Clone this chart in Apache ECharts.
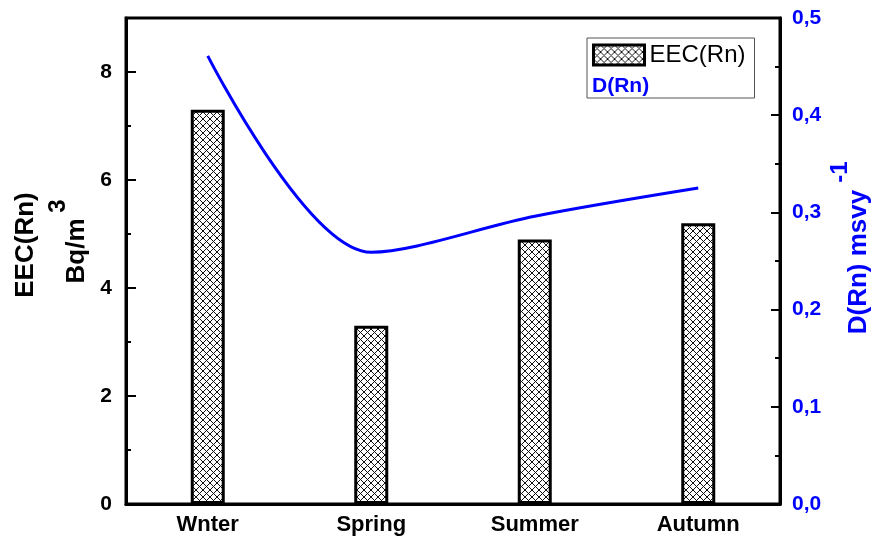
<!DOCTYPE html>
<html>
<head>
<meta charset="utf-8">
<script src="https://cdn.jsdelivr.net/npm/echarts@6/dist/echarts.min.js"></script>
<style>
  html, body { margin: 0; padding: 0; background: #fff; }
  #chart { width: 874px; height: 542px; }
</style>
</head>
<body>
<div id="chart"></div>
<script>
// Seasonal radon data
const seasons = ['Wnter', 'Spring', 'Summer', 'Autumn'];
const eecValues = [7.3, 3.3, 4.9, 5.2];          // EEC(Rn), Bq/m3
const doseValues = [0.461, 0.259, 0.296, 0.325]; // D(Rn), mSv/y
const eecTicks = [0, 2, 4, 6, 8];
const doseTicks = ['0,0', '0,1', '0,2', '0,3', '0,4', '0,5'];

const FONT = "'Liberation Sans', Arial, sans-serif";
const BLUE = '#0000ff';

// Cross-hatch tile used to fill the bars
function crossHatch(n) {
  const c = document.createElement('canvas');
  c.width = n; c.height = n;
  const g = c.getContext('2d');
  g.fillStyle = '#fff';
  g.fillRect(0, 0, n, n);
  g.strokeStyle = '#111';
  g.lineWidth = 1;
  g.beginPath();
  for (const d of [-n, 0, n]) {
    g.moveTo(d - 1, -1); g.lineTo(d + n + 1, n + 1);
    g.moveTo(d + n + 1, -1); g.lineTo(d - 1, n + 1);
  }
  g.stroke();
  return c;
}
const hatch = { image: crossHatch(7), repeat: 'repeat' };

const chart = echarts.init(document.getElementById('chart'), null, { renderer: 'canvas' });

const tickStyle = { color: '#000', width: 2 };

chart.setOption({
  animation: false,
  backgroundColor: '#fff',
  grid: {
    left: 126, top: 18, width: 654, height: 486,
    show: true, borderColor: '#000', borderWidth: 3, backgroundColor: 'transparent'
  },
  legend: [
    {
      data: [{ name: 'EEC(Rn)', icon: 'rect',
               itemStyle: { color: hatch, borderColor: '#000', borderWidth: 3 } }],
      left: 587, top: 38,
      padding: [5, 9, 31, 5],
      itemWidth: 51, itemHeight: 20,
      borderColor: '#555', borderWidth: 1,
      selectedMode: false,
      textStyle: { fontFamily: FONT, fontSize: 24, color: '#000' }
    },
    {
      data: [{ name: 'D(Rn)', icon: 'none' }],
      left: 587, top: 76, padding: 0,
      itemWidth: 0, itemHeight: 10,
      selectedMode: false,
      textStyle: { fontFamily: FONT, fontSize: 21, fontWeight: 'bold', color: BLUE }
    }
  ],
  xAxis: [
    {
      type: 'category', data: seasons, boundaryGap: true, position: 'bottom', z: 4,
      axisLine: { lineStyle: { color: '#000', width: 3 } },
      axisTick: { alignWithLabel: true, inside: true, length: 9, lineStyle: tickStyle },
      axisLabel: { color: '#000', fontFamily: FONT, fontWeight: 'bold', fontSize: 22, margin: 10 },
      splitLine: { show: false }
    },
    {
      // boundary ticks between seasons
      type: 'category', data: seasons, boundaryGap: true, position: 'bottom', z: 4,
      axisLine: { show: false },
      axisLabel: { show: false },
      axisTick: { inside: true, length: 5, lineStyle: tickStyle },
      splitLine: { show: false }
    }
  ],
  yAxis: [
    {
      type: 'value', min: 0, max: 9, interval: 2, position: 'left',
      axisLine: { show: true, lineStyle: { color: '#000', width: 3 } },
      axisTick: { show: true, inside: true, length: 10, lineStyle: tickStyle },
      minorTick: { show: true, splitNumber: 2, length: 5, lineStyle: tickStyle },
      axisLabel: {
        color: '#000', fontFamily: FONT, fontWeight: 'bold', fontSize: 21, margin: 14,
        showMaxLabel: false,
        formatter: v => (eecTicks.indexOf(v) >= 0 ? String(v) : '')
      },
      splitLine: { show: false }
    },
    {
      type: 'value', min: 0, max: 0.5, interval: 0.1, position: 'right',
      axisLine: { show: true, lineStyle: { color: '#000', width: 3 } },
      axisTick: { show: true, inside: true, length: 9, lineStyle: tickStyle },
      minorTick: { show: true, splitNumber: 2, length: 5, lineStyle: tickStyle },
      axisLabel: {
        color: BLUE, fontFamily: FONT, fontWeight: 'bold', fontSize: 21, margin: 12,
        formatter: v => doseTicks[Math.round(v * 10)]
      },
      splitLine: { show: false }
    }
  ],
  series: [
    {
      name: 'EEC(Rn)', type: 'bar', xAxisIndex: 0, yAxisIndex: 0,
      data: eecValues, barWidth: 34,
      itemStyle: { color: hatch, borderColor: '#000', borderWidth: 3 },
      z: 2
    },
    {
      name: 'D(Rn)', type: 'line', xAxisIndex: 0, yAxisIndex: 1,
      data: doseValues, smooth: 0.32, symbol: 'none', showSymbol: false,
      lineStyle: { color: BLUE, width: 3 },
      itemStyle: { color: BLUE },
      z: 3
    }
  ],
  graphic: [
    { type: 'text', x: 26, y: 245, rotation: Math.PI / 2,
      style: { text: 'EEC(Rn)', fontFamily: FONT, fontSize: 26, fontWeight: 'bold',
               fill: '#000', align: 'center', verticalAlign: 'middle' } },
    { type: 'text', x: 77, y: 251, rotation: Math.PI / 2,
      style: { text: 'Bq/m', fontFamily: FONT, fontSize: 26, fontWeight: 'bold',
               fill: '#000', align: 'center', verticalAlign: 'middle' } },
    { type: 'text', x: 58, y: 206, rotation: Math.PI / 2,
      style: { text: '3', fontFamily: FONT, fontSize: 24, fontWeight: 'bold',
               fill: '#000', align: 'center', verticalAlign: 'middle' } },
    { type: 'text', x: 859, y: 262, rotation: Math.PI / 2,
      style: { text: 'D(Rn) msvy', fontFamily: FONT, fontSize: 26, fontWeight: 'bold',
               fill: BLUE, align: 'center', verticalAlign: 'middle' } },
    { type: 'text', x: 840, y: 172, rotation: Math.PI / 2,
      style: { text: '-1', fontFamily: FONT, fontSize: 24, fontWeight: 'bold',
               fill: BLUE, align: 'center', verticalAlign: 'middle' } }
  ]
});
</script>
</body>
</html>
